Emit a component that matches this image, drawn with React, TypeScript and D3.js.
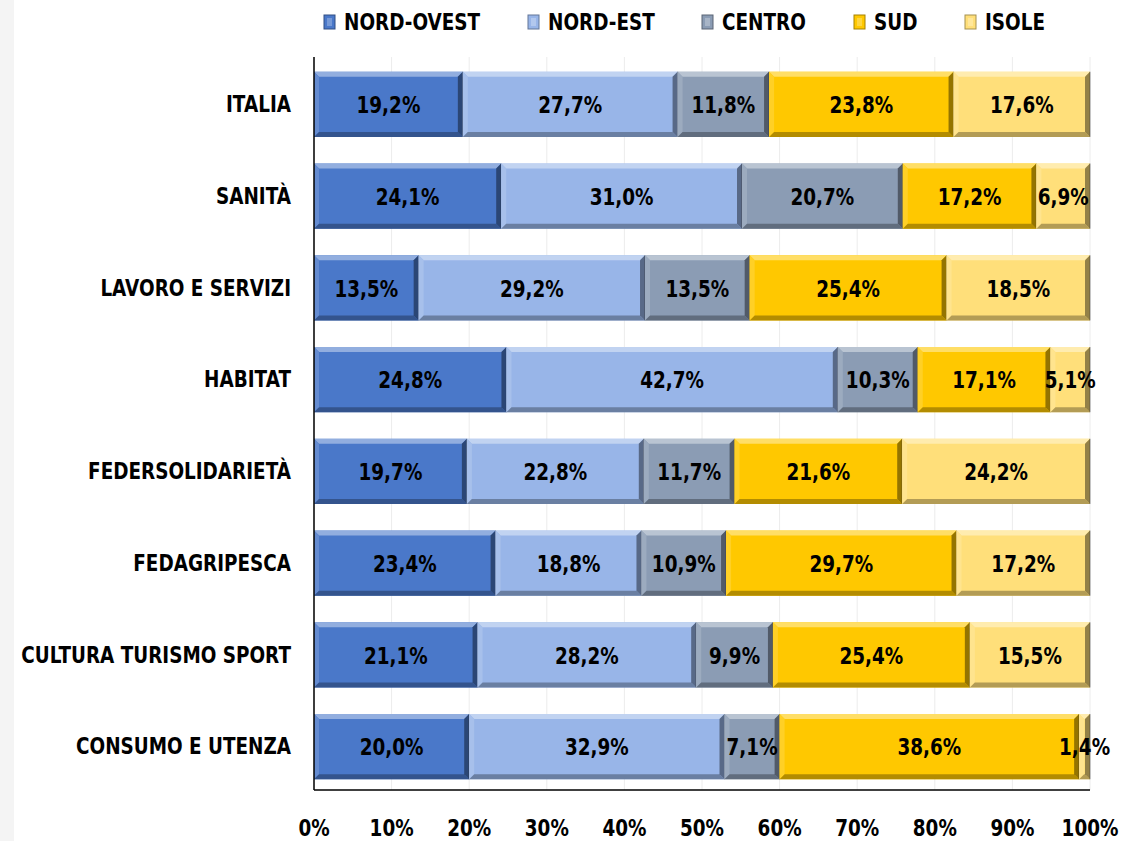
import React from "react";
import * as d3 from "d3";

const categories = [
  "ITALIA",
  "SANITÀ",
  "LAVORO E SERVIZI",
  "HABITAT",
  "FEDERSOLIDARIETÀ",
  "FEDAGRIPESCA",
  "CULTURA TURISMO SPORT",
  "CONSUMO E UTENZA",
];
const seriesNames = ["NORD-OVEST", "NORD-EST", "CENTRO", "SUD", "ISOLE"];
const nordOvest = [19.2, 24.1, 13.5, 24.8, 19.7, 23.4, 21.1, 20.0];
const nordEst = [27.7, 31.0, 29.2, 42.7, 22.8, 18.8, 28.2, 32.9];
const centro = [11.8, 20.7, 13.5, 10.3, 11.7, 10.9, 9.9, 7.1];
const sud = [23.8, 17.2, 25.4, 17.1, 21.6, 29.7, 25.4, 38.6];
const isole = [17.6, 6.9, 18.5, 5.1, 24.2, 17.2, 15.5, 1.4];
const tickValues = [0, 0.1, 0.2, 0.3, 0.4, 0.5, 0.6, 0.7, 0.8, 0.9, 1];

const colors = ["#4a78c9", "#98b5e8", "#8b9cb4", "#ffc800", "#ffdf7a"];
const FONT = "'DejaVu Sans', sans-serif";
const SX = 0.8;

function Txt(props: { x: number; y: number; anchor?: "start" | "middle" | "end"; children: React.ReactNode }) {
  return (
    <g transform={`translate(${props.x},${props.y}) scale(${SX},1)`}>
      <text
        x={0}
        y={0}
        textAnchor={props.anchor || "start"}
        dominantBaseline="central"
        fontFamily={FONT}
        fontWeight="bold"
        fontSize={23}
        fill="#000"
      >
        {props.children}
      </text>
    </g>
  );
}

export default function App() {
  const W = 1122;
  const H = 841;
  const x = d3.scaleLinear().domain([0, 1]).range([314, 1090]);
  const y = d3.scaleBand().domain(categories).range([58, 793]).paddingInner(0.29).paddingOuter(0.15);
  const allSeries = [nordOvest, nordEst, centro, sud, isole];
  const rows = categories.map((c, i) => {
    const vals = allSeries.map((s) => s[i]);
    const total = d3.sum(vals);
    const stack = d3.cumsum(vals.map((v) => v / total));
    return vals.map((v, k) => ({
      value: v,
      x0: k === 0 ? 0 : stack[k - 1],
      x1: stack[k],
      k,
    }));
  });
  const bw = y.bandwidth();
  const bev = 5;
  const fmt = (v: number) => v.toFixed(1).replace(".", ",") + "%";
  const legendX = [324, 528, 702, 854, 965];

  return (
    <svg width={W} height={H} style={{ position: "absolute", left: 0, top: 0, background: "#fff" }}>
      <rect x={0} y={0} width={14} height={H} fill="#f4f4f4" />
      {tickValues.map((t) => (
        <line key={t} x1={x(t)} x2={x(t)} y1={57} y2={790} stroke="#ececec" strokeWidth={1} />
      ))}
      {rows.map((row, i) => {
        const y0 = y(categories[i])!;
        return (
          <g key={i}>
            {row.map((seg) => {
              const a = x(seg.x0);
              const b = x(seg.x1);
              const w = b - a;
              const base = colors[seg.k];
              const light = d3.interpolateRgb(base, "#ffffff")(0.4);
              const lightL = d3.interpolateRgb(base, "#ffffff")(0.15);
              const dark = d3.interpolateRgb(base, "#000000")(0.3);
              const darkR = d3.interpolateRgb(base, "#000000")(0.42);
              const e = Math.min(bev, w / 2);
              return (
                <g key={seg.k}>
                  <rect x={a} y={y0} width={w} height={bw} fill={base} />
                  <polygon points={`${a},${y0} ${b},${y0} ${b - e},${y0 + bev} ${a + e},${y0 + bev}`} fill={light} />
                  <polygon points={`${a},${y0} ${a + e},${y0 + bev} ${a + e},${y0 + bw - bev} ${a},${y0 + bw}`} fill={lightL} />
                  <polygon points={`${a},${y0 + bw} ${a + e},${y0 + bw - bev} ${b - e},${y0 + bw - bev} ${b},${y0 + bw}`} fill={dark} />
                  <polygon points={`${b},${y0} ${b - e},${y0 + bev} ${b - e},${y0 + bw - bev} ${b},${y0 + bw}`} fill={darkR} />
                  <line x1={b} x2={b} y1={y0} y2={y0 + bw} stroke="#333" strokeOpacity={0.5} strokeWidth={1} />
                </g>
              );
            })}
            {row.map((seg) => (
              <Txt key={"t" + seg.k} x={(x(seg.x0) + x(seg.x1)) / 2} y={y0 + bw / 2 + 1} anchor="middle">
                {fmt(seg.value)}
              </Txt>
            ))}
            <Txt x={291} y={y0 + bw / 2} anchor="end">
              {categories[i]}
            </Txt>
          </g>
        );
      })}
      <line x1={314} x2={314} y1={57} y2={790} stroke="#000" strokeWidth={1.5} />
      <line x1={314} x2={1090} y1={790} y2={790} stroke="#000" strokeWidth={1.5} />
      {tickValues.map((t) => (
        <Txt key={"tick" + t} x={x(t)} y={828} anchor="middle">
          {d3.format(".0%")(t)}
        </Txt>
      ))}
      {seriesNames.map((s, k) => {
        const lx = legendX[k];
        return (
          <g key={s}>
            <rect x={lx} y={15} width={11} height={14} fill={colors[k]} stroke={d3.interpolateRgb(colors[k], "#000")(0.35)} strokeWidth={1} />
            <rect x={lx + 3} y={18} width={5} height={8} fill={d3.interpolateRgb(colors[k], "#fff")(0.25)} />
            <Txt x={lx + 20} y={22}>
              {s}
            </Txt>
          </g>
        );
      })}
    </svg>
  );
}
